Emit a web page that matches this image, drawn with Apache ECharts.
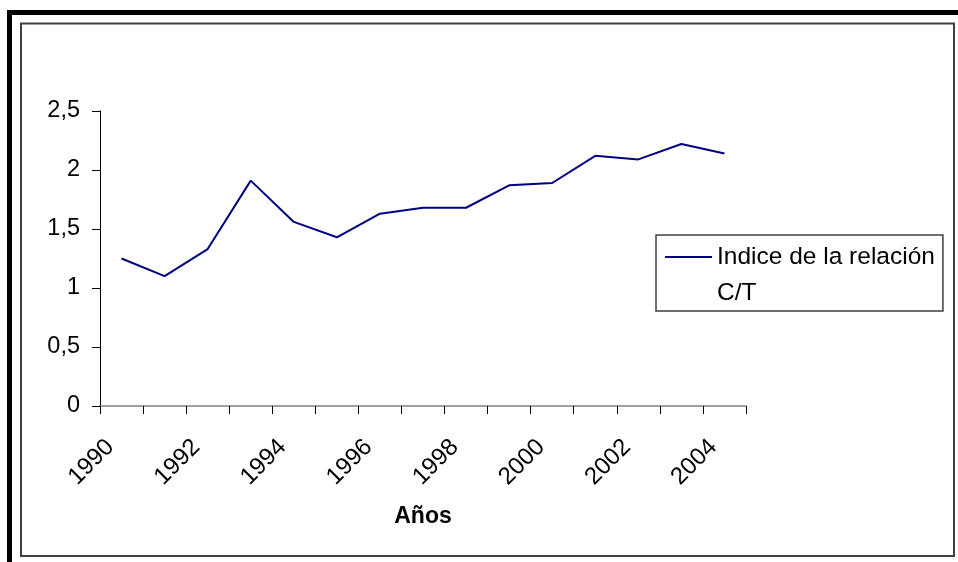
<!DOCTYPE html>
<html>
<head>
<meta charset="utf-8">
<script src="https://cdn.jsdelivr.net/npm/echarts/dist/echarts.min.js"></script>
<style>
  html, body { margin: 0; padding: 0; background: #ffffff; }
  #chart { width: 958px; height: 562px; }
</style>
</head>
<body>
<div id="chart"></div>
<script>
// Years on the category axis
const years = ['1990', '1991', '1992', '1993', '1994', '1995', '1996', '1997',
               '1998', '1999', '2000', '2001', '2002', '2003', '2004'];
// Índice de la relación C/T per year
const ratioCT = [1.25, 1.10, 1.33, 1.91, 1.56, 1.43, 1.63, 1.68,
                 1.68, 1.87, 1.89, 2.12, 2.09, 2.22, 2.14];
const seriesName = 'Indice de la relación\nC/T';
const xAxisTitle = 'Años';

const FONT = '"Liberation Sans", Arial, sans-serif';

const chart = echarts.init(document.getElementById('chart'), null, { renderer: 'canvas' });

chart.setOption({
  backgroundColor: '#ffffff',
  animation: false,
  graphic: [
    {
      // heavy outer frame
      type: 'rect', silent: true, z: -10,
      shape: { x: 9.5, y: 12.5, width: 1000, height: 600 },
      style: { fill: null, stroke: '#000000', lineWidth: 5 }
    },
    {
      // thin chart-area border
      type: 'rect', silent: true, z: -10,
      shape: { x: 21, y: 23.5, width: 933, height: 532.5 },
      style: { fill: null, stroke: '#404040', lineWidth: 2 }
    }
  ],
  grid: {
    left: 100, right: 212, top: 111, bottom: 156,
    containLabel: false, outerBoundsMode: 'none'
  },
  legend: {
    orient: 'vertical',
    left: 656, top: 235,
    padding: [4, 8, 0, 9],
    borderColor: '#404040', borderWidth: 1.5,
    itemWidth: 47, itemHeight: 72,
    symbolKeepAspect: false,
    // a 2px stroke sitting on the first text line
    icon: 'path://M0,0L0.01,0M0,17L47,17L47,19L0,19ZM0,72L0.01,72',
    itemStyle: { borderWidth: 0 },
    textStyle: { fontFamily: FONT, fontSize: 24.5, color: '#000', lineHeight: 36 },
    data: [seriesName]
  },
  xAxis: {
    type: 'category',
    data: years,
    boundaryGap: true,
    name: xAxisTitle,
    nameLocation: 'middle',
    nameGap: 99,
    nameTextStyle: { fontFamily: FONT, fontSize: 23, fontWeight: 'bold', color: '#000' },
    axisLine: { lineStyle: { color: '#808080', width: 1.5 } },
    axisTick: { show: true, interval: 0, length: 8, lineStyle: { color: '#000', width: 1 } },
    axisLabel: {
      interval: 1, rotate: 45, margin: 26,
      padding: [0, 16, 0, 0],
      fontFamily: FONT, fontSize: 24, color: '#000'
    },
    splitLine: { show: false }
  },
  yAxis: {
    type: 'value',
    min: 0, max: 2.5, interval: 0.5,
    axisLine: { show: true, lineStyle: { color: '#000', width: 1 } },
    axisTick: { show: true, length: 8, lineStyle: { color: '#000', width: 1 } },
    axisLabel: {
      margin: 20,
      fontFamily: FONT, fontSize: 23.5, color: '#000',
      formatter: v => String(v).replace('.', ',')
    },
    splitLine: { show: false }
  },
  series: [{
    name: seriesName,
    type: 'line',
    data: ratioCT,
    symbol: 'none',
    showSymbol: false,
    lineStyle: { color: '#000080', width: 2 },
    itemStyle: { color: '#000080' }
  }]
});
</script>
</body>
</html>
